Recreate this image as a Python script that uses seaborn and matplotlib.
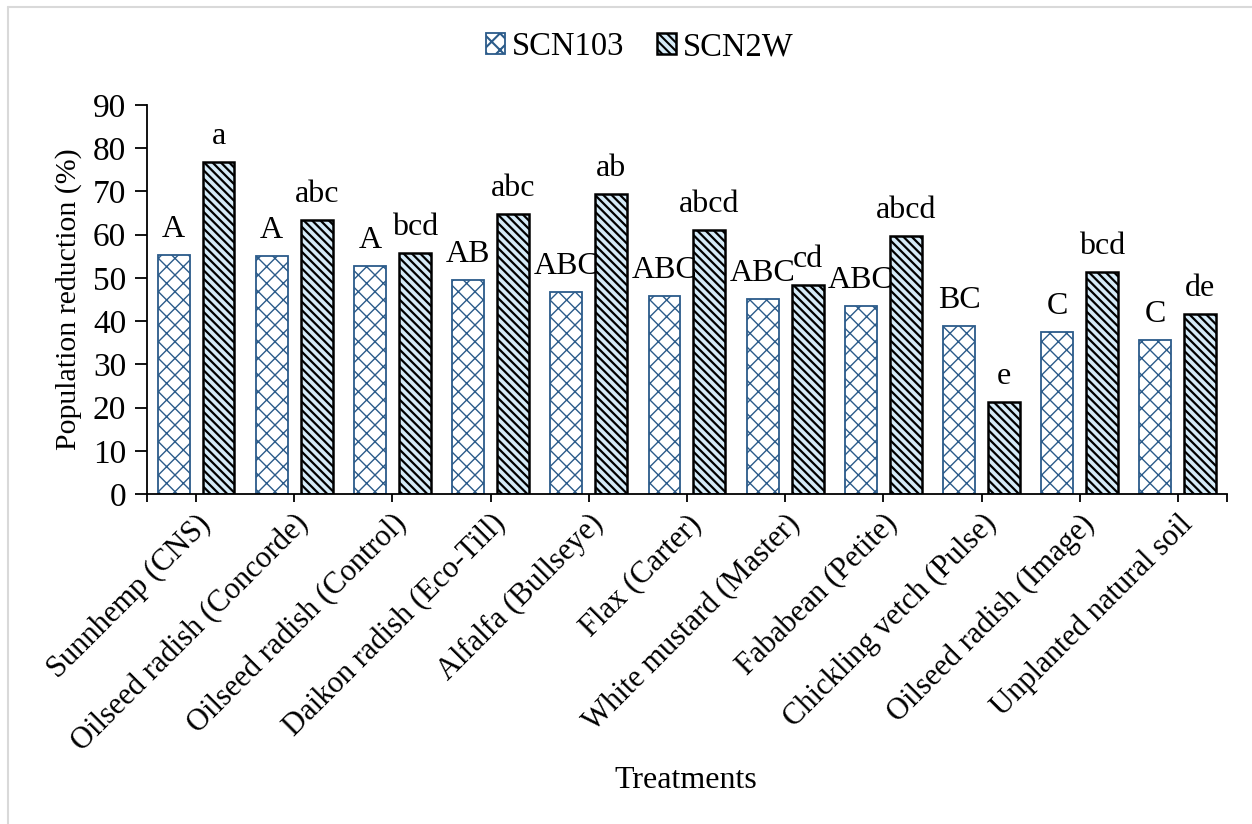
import matplotlib
matplotlib.use("Agg")
import matplotlib.pyplot as plt
import seaborn as sns
import pandas as pd
from matplotlib.lines import Line2D
from matplotlib.patches import Patch

treatments = ["Sunnhemp (CNS)", "Oilseed radish (Concorde)", "Oilseed radish (Control)",
              "Daikon radish (Eco-Till)", "Alfalfa (Bullseye)", "Flax (Carter)",
              "White mustard (Master)", "Fababean (Petite)", "Chickling vetch (Pulse)",
              "Oilseed radish (Image)", "Unplanted natural soil"]
scn103 = [55.3, 55.0, 52.8, 49.6, 46.7, 45.8, 45.0, 43.4, 38.8, 37.5, 35.6]
scn2w = [76.7, 63.3, 55.8, 64.8, 69.3, 61.0, 48.3, 59.6, 21.3, 51.3, 41.6]
letters103 = ["A", "A", "A", "AB", "ABC", "ABC", "ABC", "ABC", "BC", "C", "C"]
letters2w = ["a", "abc", "bcd", "abc", "ab", "abcd", "cd", "abcd", "e", "bcd", "de"]
series = ["SCN103", "SCN2W"]

df = pd.DataFrame({
    "Treatment": treatments * 2,
    "Value": scn103 + scn2w,
    "Series": [series[0]] * len(treatments) + [series[1]] * len(treatments),
})

sns.set_style("white")
plt.rcParams["font.family"] = ["Liberation Serif", "DejaVu Serif"]
plt.rcParams["hatch.linewidth"] = 1.5
for k in ["text.color", "axes.labelcolor", "xtick.color", "ytick.color"]:
    plt.rcParams[k] = "black"

fig = plt.figure(figsize=(12.52, 8.24), dpi=100)
ax = fig.add_axes([0.1174, 0.4005, 0.8626, 0.4721])

sns.barplot(data=df, x="Treatment", y="Value", hue="Series", order=treatments,
            hue_order=series, width=0.915, gap=0.29, ax=ax, legend=False,
            errorbar=None)

styles = [
    dict(face="white", edge="#2B5B8A", hatch="xx", lw=1.3, hlw=1.0),
    dict(face="#D4EAF7", edge="black", hatch="\\\\\\\\", lw=1.8, hlw=1.6),
]
for cont, st in zip(ax.containers, styles):
    for p in cont:
        p.set_facecolor(st["face"])
        p.set_edgecolor(st["edge"])
        p.set_hatch(st["hatch"])
        p.set_linewidth(st["lw"])
        try:
            p.set_hatch_linewidth(st["hlw"])
        except Exception:
            pass

for cont, labs in zip(ax.containers, [letters103, letters2w]):
    for p, lab in zip(cont, labs):
        x = p.get_x() + p.get_width() / 2
        ax.annotate(lab, (x, p.get_height()), xytext=(0, 13), textcoords="offset points",
                    ha="center", va="baseline", fontsize=23, color="black")

ax.set_ylim(0, 90)
ax.set_yticks(range(0, 91, 10))
ax.set_xlim(-0.5, len(treatments) - 0.5)
ax.set_xticks(range(len(treatments)))
ax.set_xticklabels(treatments, rotation=45, ha="right", rotation_mode="anchor", fontsize=22)
ax.set_xticks([-0.5, len(treatments) - 0.5], minor=True)
ax.tick_params(axis="y", labelsize=24, direction="out", length=9, width=1.3, left=True, pad=6)
ax.tick_params(axis="x", which="both", direction="out", length=6, width=1.3, bottom=True, pad=5)
for s in ["top", "right"]:
    ax.spines[s].set_visible(False)
for s in ["left", "bottom"]:
    ax.spines[s].set_color("black")
    ax.spines[s].set_linewidth(1.3)
ax.set_xlabel("")
ax.set_ylabel("Population reduction (%)", fontsize=21.5, labelpad=8)
fig.text(0.548, 0.053, "Treatments", ha="center", va="center", fontsize=23)

handles = []
for name, st in zip(series, styles):
    h = Patch(facecolor=st["face"], edgecolor=st["edge"], hatch=st["hatch"], linewidth=st["lw"], label=name)
    handles.append(h)
fig.legend(handles=handles, loc="center", bbox_to_anchor=(0.511, 0.943), ncol=2, frameon=False,
           fontsize=23.5, handlelength=0.6, handleheight=0.6, handletextpad=0.2, columnspacing=1.0)

fig.add_artist(Line2D([8 / 1252, 1.0], [1 - 7 / 824, 1 - 7 / 824], transform=fig.transFigure,
                      color="#D9D9D9", lw=1.5))
fig.add_artist(Line2D([8 / 1252, 8 / 1252], [0, 1 - 7 / 824], transform=fig.transFigure,
                      color="#D9D9D9", lw=1.5))

fig.savefig("out.png", dpi=100, facecolor="white")
